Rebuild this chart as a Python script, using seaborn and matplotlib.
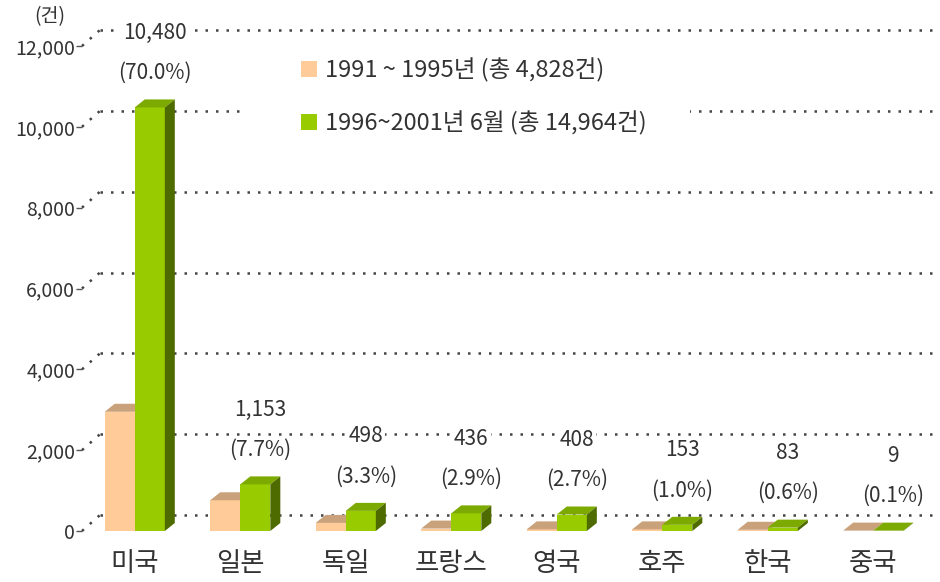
import matplotlib
matplotlib.use('Agg')
import matplotlib.pyplot as plt
import seaborn as sns
import pandas as pd
from matplotlib.patches import Polygon, Rectangle, Patch
from matplotlib.lines import Line2D

# data
countries = ['미국', '일본', '독일', '프랑스', '영국', '호주', '한국', '중국']
period1 = [2950, 760, 200, 60, 40, 40, 30, 10]
period2 = [10480, 1153, 498, 436, 408, 153, 83, 9]
share2 = ['70.0%', '7.7%', '3.3%', '2.9%', '2.7%', '1.0%', '0.6%', '0.1%']
series = ['1991 ~ 1995년 (총 4,828건)', '1996~2001년 6월 (총 14,964건)']
yticks = [0, 2000, 4000, 6000, 8000, 10000, 12000]

front = ['#FFCC99', '#99CC00']
top = ['#C9A27C', '#7DAA00']
side = ['#E0B68C', '#4E6B00']

sns.set_theme(style='white')
plt.rcParams['font.family'] = ['Noto Sans CJK KR', 'DejaVu Sans']
txt = '#333333'

df = pd.DataFrame({
    '국가': countries * 2,
    '건수': period1 + period2,
    '기간': [series[0]] * len(countries) + [series[1]] * len(countries),
})

W, H = 940, 582
fig = plt.figure(figsize=(W / 100, H / 100), dpi=100)
ax = fig.add_axes([82 / W, 51 / H, 844 / W, 485 / H])
sns.barplot(data=df, x='국가', y='건수', hue='기간', palette=front,
            width=0.57, saturation=1, linewidth=0, legend=False, ax=ax)
ax.set_ylim(0, 12000)
ax.set_xlim(-0.5, len(countries) - 0.5)

# pixel -> data helpers for the fake 3D depth
px_x = 844 / len(countries)
px_y = 485 / 12000
dx = 10 / px_x
dy = 8 / px_y

for k, cont in enumerate(ax.containers):
    for bar in cont:
        x, w, h = bar.get_x(), bar.get_width(), bar.get_height()
        z = 3 + k
        bar.set_zorder(z)
        ax.add_patch(Polygon([(x, h), (x + w, h), (x + w + dx, h + dy), (x + dx, h + dy)],
                             closed=True, facecolor=top[k], lw=0, zorder=z))
        ax.add_patch(Polygon([(x + w, 0), (x + w + dx, dy), (x + w + dx, h + dy), (x + w, h)],
                             closed=True, facecolor=side[k], lw=0, zorder=z - 0.5 if k == 0 else z))

# dotted back-wall gridlines, shifted up/right like the 3D original
gx, gy = 18, 16
for v in yticks:
    ax.add_line(Line2D([gx / 844, 1 + 14 / 844], [v + gy / px_y] * 2,
                       transform=ax.get_yaxis_transform(), color='#444444', lw=1.8,
                       linestyle=(0, (1, 3.2)), clip_on=False, zorder=1))
    ax.add_line(Line2D([0, gx / 844], [v, v + gy / px_y],
                       transform=ax.get_yaxis_transform(), color='#444444', lw=1.8,
                       linestyle=(0, (1, 3.2)), clip_on=False, zorder=1))

# value labels above the second-period bars
for i, bar in enumerate(ax.containers[1]):
    cx = bar.get_x() + bar.get_width() / 2 + dx / 2
    ty = bar.get_height() + dy
    ax.annotate(f'({share2[i]})', (cx, ty), xytext=(0, 19), textcoords='offset points',
                ha='center', va='center', fontsize=15, color=txt, zorder=6,
                bbox=dict(boxstyle='square,pad=0.1', fc='white', ec='none'))
    ax.annotate(f'{period2[i]:,}', (cx, ty), xytext=(0, 48), textcoords='offset points',
                ha='center', va='center', fontsize=15, color=txt, zorder=6,
                bbox=dict(boxstyle='square,pad=0.1', fc='white', ec='none'))

ax.set_yticks(yticks)
ax.set_yticklabels([f'{v:,}' for v in yticks], fontsize=14, color=txt)
ax.tick_params(axis='y', length=4, width=1, color='#555555', pad=1, left=True)
ax.tick_params(axis='x', length=0, pad=14, labelsize=19, labelcolor=txt)
ax.set_xlabel('')
ax.set_ylabel('')
ax.grid(False)
for s in ax.spines.values():
    s.set_visible(False)

fig.text(50 / W, 1 - 17 / H, '(건)', ha='center', va='center', fontsize=14, color=txt)

# white panel behind the legend hides the gridlines, as in the original
fig.add_artist(Rectangle((240 / W, 1 - 142 / H), 450 / W, 95 / H, transform=fig.transFigure,
                         facecolor='white', edgecolor='none', zorder=2))
handles = [Patch(facecolor=c, edgecolor='none') for c in front]
fig.legend(handles, series, loc='upper left', bbox_to_anchor=(280 / W, 1 - 37 / H),
           frameon=False, fontsize=17, handlelength=0.65, handleheight=0.65,
           handletextpad=0.35, labelspacing=1.2, labelcolor=txt).set_zorder(5)

fig.savefig('out.png', dpi=100)
